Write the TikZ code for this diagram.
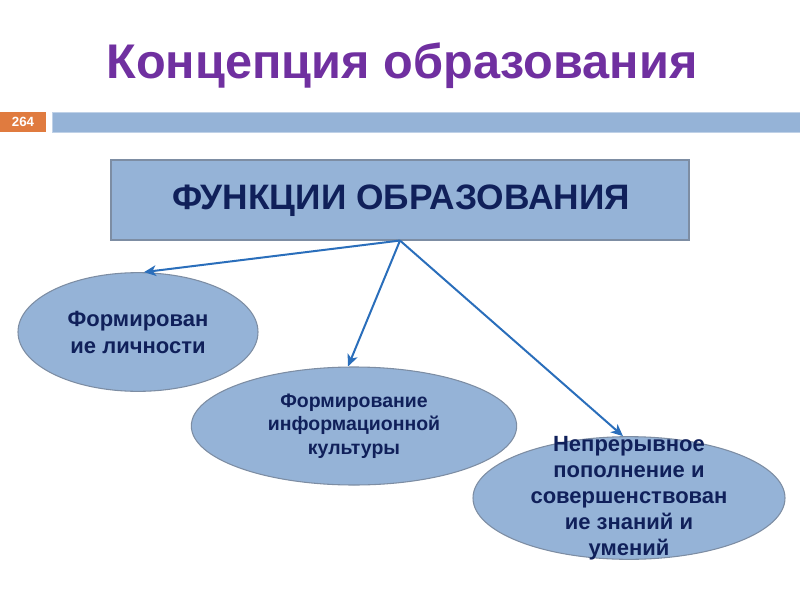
\documentclass[tikz,border=0pt]{standalone}
\usepackage{fontspec}
\setmainfont{Liberation Sans}
\usetikzlibrary{shapes.geometric,arrows.meta}
\definecolor{titlepurple}{HTML}{7030A0}
\definecolor{boxblue}{HTML}{95B3D7}
\definecolor{navytext}{HTML}{10205A}
\definecolor{pageorange}{HTML}{E07B3F}
\definecolor{arrowblue}{HTML}{2A6EBB}
\definecolor{edgegray}{HTML}{7D8DA3}
\tikzset{
  funcbox/.style={draw=edgegray,fill=boxblue,line width=0.8pt,minimum width=433.5pt,minimum height=60pt,inner sep=0pt},
  funcoval/.style={ellipse,draw=edgegray,fill=boxblue,line width=0.8pt,inner sep=0pt},
  ovaltext/.style={align=center,text=navytext,font=\bfseries},
  arr/.style={-{Stealth[length=9pt,width=8pt,inset=2.5pt]},arrowblue,line width=1.5pt}
}
\begin{document}
\begin{tikzpicture}[x=0.75pt,y=-0.75pt]
\useasboundingbox (0,0) rectangle (800,600);

\node[anchor=base,text=titlepurple,font=\fontsize{36.5}{43}\selectfont\bfseries] (title) at (402,78) {Концепция образования};

\fill[pageorange] (0,112) rectangle (46,132);
\node[text=white,font=\fontsize{10}{11}\selectfont\bfseries] (page) at (23,122) {264};
\draw[fill=boxblue,draw=boxblue!60] (52,112) rectangle (800,132);

\node[funcbox] (func) at (400,200) {};
\node[text=navytext,font=\fontsize{26.5}{31}\selectfont\bfseries] (functext) at (401,201) {ФУНКЦИИ ОБРАЗОВАНИЯ};

\node[funcoval,minimum width=180pt,minimum height=89pt] (lich) at (138,332) {};
\node[ovaltext,font=\fontsize{16.5}{20.25}\selectfont\bfseries] at (lich) {Формирован\\ие личности};

\node[funcoval,minimum width=244pt,minimum height=88.5pt] (info) at (354,426) {};
\node[ovaltext,font=\fontsize{14.6}{17.6}\selectfont\bfseries] at (info) {Формирование\\информационной\\культуры};

\node[funcoval,minimum width=234pt,minimum height=92pt] (znan) at (629,498) {};
\node[ovaltext,font=\fontsize{16.5}{19.5}\selectfont\bfseries] at (znan) {Непрерывное\\пополнение и\\совершенствован\\ие знаний и\\умений};

\draw[arr] (func.south) -- ([xshift=4.5pt]lich.north);
\draw[arr] (func.south) -- ([xshift=-4.5pt]info.north);
\draw[arr] (func.south) -- ([xshift=-4.5pt]znan.north);
\end{tikzpicture}
\end{document}
